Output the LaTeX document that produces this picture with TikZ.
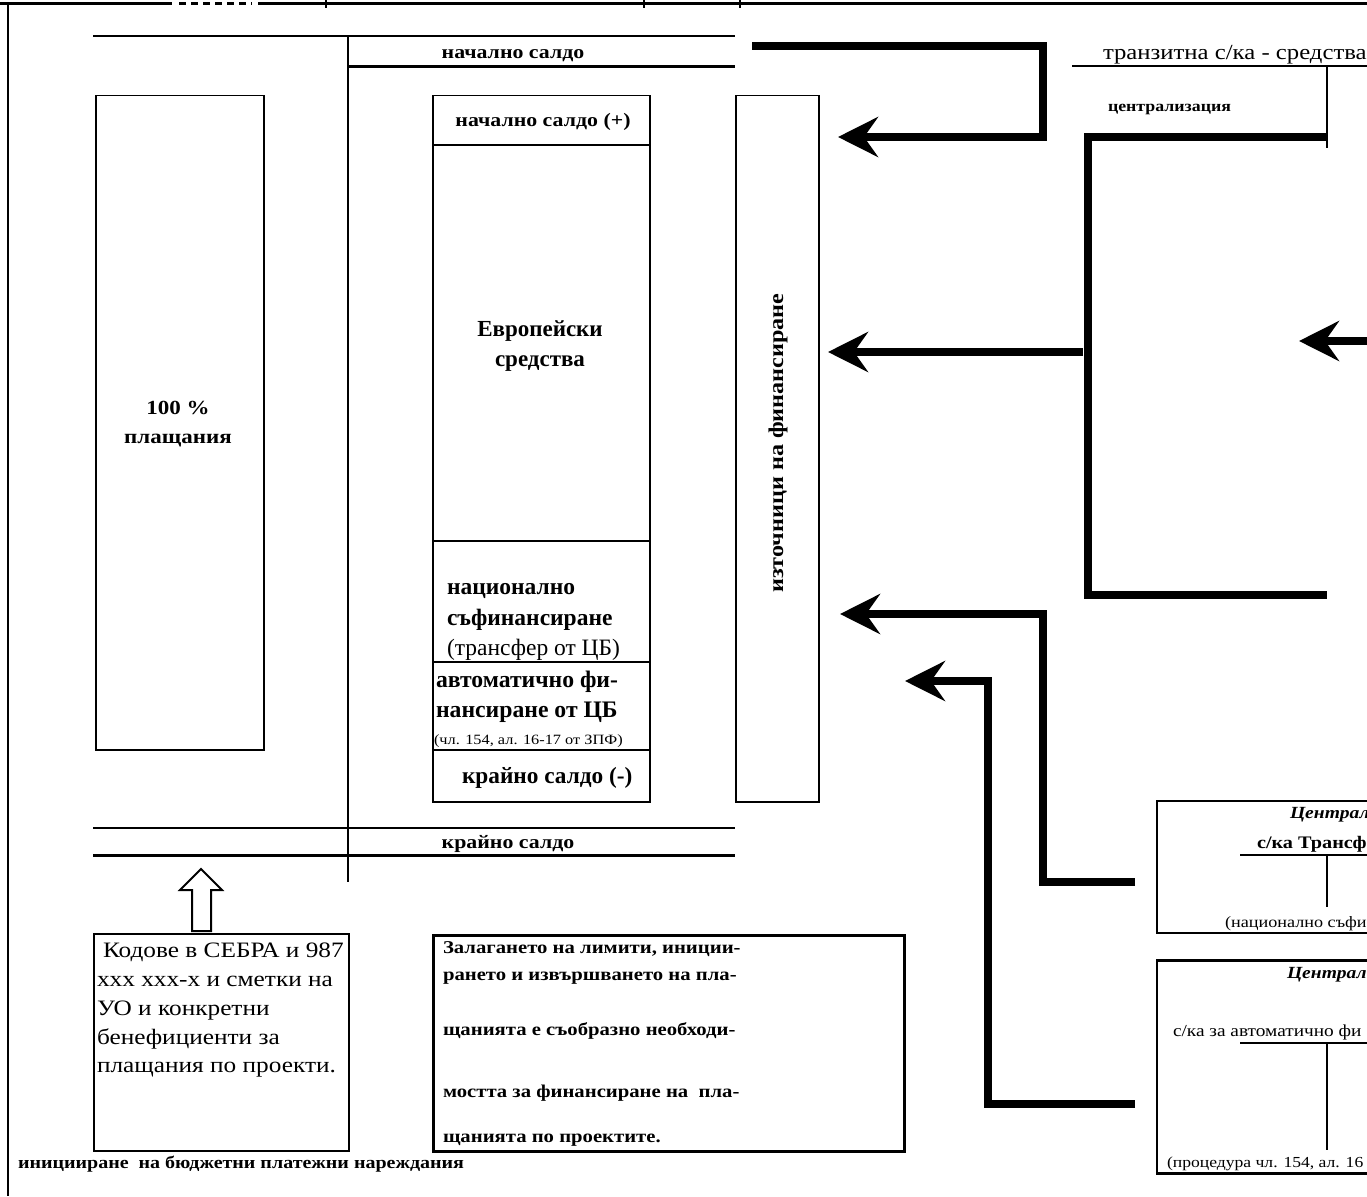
\documentclass[tikz,border=0pt]{standalone}
\usepackage{fontspec}
\setmainfont{Liberation Serif}
\newfontfamily\wf[FakeStretch=1.15]{Liberation Serif}
\usetikzlibrary{arrows.meta}
\newcommand{\fsz}[2]{\fontsize{#1}{#2}\selectfont}
\tikzset{
  thinln/.style={line width=1.5pt},
  medln/.style={line width=2.5pt},
  heavyln/.style={line width=3pt},
  fat/.style={line width=7.5pt, line join=miter},
  arr/.style={fat, -{Stealth[length=40pt,width=40pt,inset=14pt]}},
  boxln/.style={draw, line width=1.5pt, inner sep=0pt},
  txt/.style={inner sep=0pt, outer sep=0pt},
  bA/.style={txt, font=\wf\bfseries\fsz{19}{22}},
  bB/.style={txt, font=\bfseries\fsz{23.5}{27}},
  rB/.style={txt, font=\fsz{23.5}{27}},
  rK/.style={txt, font=\wf\fsz{22}{26}},
  bZ/.style={txt, font=\wf\bfseries\fsz{18}{21}},
}
\begin{document}
\begin{tikzpicture}[x=1pt,y=-1pt]
\useasboundingbox (0,0) rectangle (1367,1196);
\fill[white] (0,0) rectangle (1367,1196);
\clip (0,0) rectangle (1367,1196);

% top frame line with dotted gap and descender ticks
\draw[heavyln] (0,4) -- (172,4);
\draw[heavyln, dash pattern=on 7pt off 5pt] (179,4) -- (252,4);
\draw[heavyln] (258,4) -- (1367,4);
\foreach \tx in {326,644,740} \draw[line width=2pt] (\tx,0) -- (\tx,8);
% left frame line
\draw[line width=2pt] (8,4) -- (8,1196);

% ledger lines
\draw[thinln] (93,36) -- (735,36);
\draw[thinln] (348,36) -- (348,882);
\draw[heavyln] (348,67) -- (735,67);
\draw[thinln] (93,828) -- (735,828);
\draw[heavyln] (93,855) -- (735,855);
\node[bA, anchor=base] (ns) at (513,59) {начално салдо};
\node[bA, anchor=base] (ks) at (508,848) {крайно салдо};

% payments box
\node[boxln, anchor=north west, minimum width=168pt, minimum height=654pt] (pay) at (95,95) {};
\node[txt, font=\wf\bfseries\fsz{20}{24}, anchor=base] (p1) at (178,414) {100 \%};
\node[txt, font=\wf\bfseries\fsz{20}{24}, anchor=base] (p2) at (178,443) {плащания};

% stacked sources box
\node[boxln, anchor=north west, minimum width=217pt, minimum height=706pt] (stack) at (432,95) {};
\draw[thinln] (432,145) -- (651,145);
\draw[thinln] (432,541) -- (651,541);
\draw[thinln] (432,662) -- (651,662);
\draw[thinln] (432,750) -- (651,750);
\node[bA, anchor=base] (ns2) at (543,127) {начално салдо (+)};
\node[bB, font=\bfseries\fsz{23}{27}, anchor=base] (eu1) at (540,336) {Европейски};
\node[bB, font=\bfseries\fsz{23}{27}, anchor=base] (eu2) at (540,366) {средства};
\node[bB, anchor=base west] (nc1) at (447,594) {национално};
\node[bB, anchor=base west] (nc2) at (447,625) {съфинансиране};
\node[rB, anchor=base west] (nc3) at (447,655) {(трансфер от ЦБ)};
\node[bB, font=\bfseries\fsz{23.7}{27}, anchor=base west] (af1) at (436,687) {автоматично фи-};
\node[bB, font=\bfseries\fsz{23.7}{27}, anchor=base west] (af2) at (436,717) {нансиране от ЦБ};
\node[txt, font=\wf\fsz{14.2}{17}, anchor=base west] (af3) at (434,744) {(чл. 154, ал. 16-17 от ЗПФ)};
\node[txt, font=\bfseries\fsz{23.3}{27}, anchor=base west] (ks2) at (462,783) {крайно салдо (-)};

% sources of financing box
\node[boxln, anchor=north west, minimum width=83pt, minimum height=706pt] (src) at (735,95) {};
\node[txt, font=\wf\bfseries\fsz{21}{25}, rotate=90] (srct) at (778,443) {източници на финансиране};

% hollow up arrow
\draw[line width=2pt, fill=white] (192,931) -- (192,890) -- (180,890) -- (201,869) -- (222,890) -- (211,890) -- (211,931) -- cycle;

% codes box
\node[boxln, anchor=north west, minimum width=255pt, minimum height=217pt] (codes) at (93,933) {};
\node[rK, anchor=base west] (c1) at (103,957) {Кодове в СЕБРА и 987};
\node[rK, anchor=base west] (c2) at (97,986) {ххх ххх-х и сметки на};
\node[rK, anchor=base west] (c3) at (97,1015) {УО и конкретни};
\node[rK, anchor=base west] (c4) at (97,1044) {бенефициенти за};
\node[rK, anchor=base west] (c5) at (97,1072) {плащания по проекти.};

% limits box
\node[draw, line width=2.5pt, inner sep=0pt, anchor=north west, minimum width=471pt, minimum height=216pt] (lim) at (432,934) {};
\node[bZ, anchor=base west] (z1) at (443,953) {Залагането на лимити, иниции-};
\node[bZ, anchor=base west] (z2) at (443,980) {рането и извършването на пла-};
\node[bZ, anchor=base west] (z3) at (443,1035) {щанията е съобразно необходи-};
\node[bZ, anchor=base west] (z4) at (443,1097) {мостта за финансиране на~ пла-};
\node[bZ, anchor=base west] (z5) at (443,1142) {щанията по проектите.};

\node[bZ, font=\wf\bfseries\fsz{17.4}{21}, anchor=base west] (bot) at (18,1168) {иницииране~ на бюджетни платежни нареждания};

% transit account
\node[txt, font=\wf\fsz{21.5}{25}, anchor=base west] (tr) at (1103,60) {транзитна с/ка - средства};
\draw[thinln] (1072,66) -- (1367,66);
\draw[thinln] (1327,66) -- (1327,148);
\node[txt, font=\wf\bfseries\fsz{15.5}{18}, anchor=base west] (cen) at (1108,112) {централизация};

% thick bracket
\draw[fat] (1327,137) -- (1088,137) -- (1088,595) -- (1327,595);

% arrows
\coordinate (a1s) at (752,46);
\coordinate (a1t) at (838,137);
\draw[arr] (a1s) -- (1043,46) |- (a1t);
\coordinate (a2s) at (1083,352);
\coordinate (a2t) at (828,352);
\draw[arr] (a2s) -- (a2t);
\coordinate (a3s) at (1380,341);
\coordinate (a3t) at (1299,341);
\draw[arr] (a3s) -- (a3t);
\coordinate (a4s) at (1135,882);
\coordinate (a4t) at (840,614);
\draw[arr] (a4s) -- (1043,882) |- (a4t);
\coordinate (a5s) at (1135,1104);
\coordinate (a5t) at (905,681);
\draw[arr] (a5s) -- (988,1104) |- (a5t);

% central budget box 1
\draw[thinln] (1400,801) -- (1157,801) -- (1157,933);
\draw[medln] (1156,933) -- (1400,933);
\node[txt, font=\wf\bfseries\itshape\fsz{17}{20}, anchor=base west] (cb1) at (1290,818) {Централ};
\node[txt, font=\wf\bfseries\fsz{17.6}{21}, anchor=base west] (tf) at (1257,848) {с/ка Трансф};
\draw[thinln] (1240,855) -- (1367,855);
\draw[thinln] (1327,855) -- (1327,907);
\node[txt, font=\wf\fsz{15.8}{19}, anchor=base west] (tf2) at (1225,927) {(национално съфи};

% central budget box 2
\draw[heavyln] (1156,960) -- (1400,960);
\draw[thinln] (1157,960) -- (1157,1173);
\draw[heavyln] (1156,1173) -- (1400,1173);
\node[txt, font=\wf\bfseries\itshape\fsz{17}{20}, anchor=base west] (cb2) at (1287,978) {Централ};
\node[txt, font=\wf\fsz{16.8}{20}, anchor=base west] (af4) at (1173,1036) {с/ка за автоматично фи};
\draw[thinln] (1240,1043) -- (1367,1043);
\draw[thinln] (1327,1043) -- (1327,1150);
\node[txt, font=\wf\fsz{15.3}{18}, anchor=base west] (pr) at (1167,1167) {(процедура чл. 154, ал. 16};
\end{tikzpicture}
\end{document}
